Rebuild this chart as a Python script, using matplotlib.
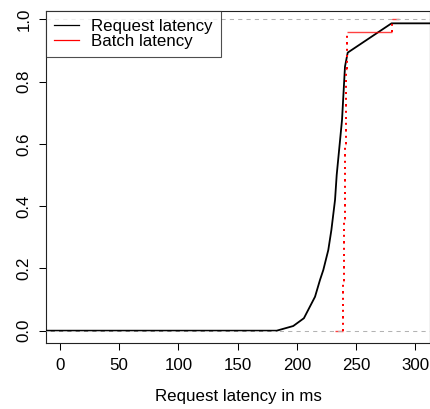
import numpy as np
import matplotlib
matplotlib.use("Agg")
import matplotlib.pyplot as plt
from matplotlib.lines import Line2D

# Request latency ECDF
req_x = [183, 197, 206, 215.4, 219.6, 222.4, 226.6, 229.2, 232.3, 233.7, 238.2, 240.7, 243.0, 280.0]
req_y = [0.0, 0.015, 0.04, 0.109, 0.163, 0.195, 0.259, 0.323, 0.42, 0.5, 0.677, 0.848, 0.893, 0.987]

# Batch latency knots (ECDF step function, 25 batches)
batch_knots = [239.0, 239.1, 239.3, 239.4, 239.5, 239.7, 239.8, 240.0, 240.1, 240.3,
               240.4, 240.6, 240.7, 240.9, 241.0, 241.2, 241.3, 241.5, 241.6, 241.8,
               241.9, 242.0, 242.2, 242.3, 280.0]

x_ticks = [0, 50, 100, 150, 200, 250, 300]
y_ticks = [0.0, 0.2, 0.4, 0.6, 0.8, 1.0]
x_label = "Request latency in ms"
legend_labels = ["Request latency", "Batch latency"]

plt.rcParams['font.family'] = ['Liberation Sans', 'DejaVu Sans']
FS = 12.2

fig = plt.figure(figsize=(4.31, 4.09), dpi=100)
ax = fig.add_axes([46/431, 1-343.3/409, 384/431, (343.3-10.7)/409])
xlim = (-11.8, 312.5)
ylim = (-0.0405, 1.0276)
ax.set_xlim(*xlim)
ax.set_ylim(*ylim)

# Request latency line (extended flat to plot edges)
rx = [xlim[0] - 5] + req_x + [xlim[1] + 5]
ry = [req_y[0]] + req_y + [req_y[-1]]
ax.plot(rx, ry, color='black', lw=1.3, zorder=3, solid_joinstyle='round')

# Batch latency ECDF
n = len(batch_knots)
yv = np.arange(1, n + 1) / n
kn = np.array(batch_knots)
ext = 0.16 * (kn[-1] - kn[0])
ybefore = np.concatenate([[0.0], yv[:-1]])
# vertical (dotted) parts
ax.vlines(kn, ybefore, yv, color='red', lw=1.44, linestyle=(0, (1, 2.1)), zorder=4)
# horizontal (solid) parts
hx0 = np.concatenate([[kn[0] - ext], kn])
hx1 = np.concatenate([kn, [kn[-1] + ext]])
hy = np.concatenate([[0.0], yv])
ax.hlines(hy, hx0, hx1, color='red', lw=1.0, alpha=0.75, zorder=4)

# reference dashed lines at 0 and 1
for h in (0.0, 1.0):
    ax.axhline(h, color='#b3b3b3', lw=0.75, linestyle=(0, (4, 4)), zorder=5)

ax.set_xticks(x_ticks)
ax.set_xticklabels([str(t) for t in x_ticks])
ax.set_yticks(y_ticks)
ax.set_yticklabels([f"{t:.1f}" for t in y_ticks], rotation=90, va='center')
ax.tick_params(axis='both', direction='out', length=5.3, width=0.75, labelsize=FS, colors='black')
ax.tick_params(axis='x', pad=5.5)
ax.tick_params(axis='y', pad=5)
for s in ax.spines.values():
    s.set_linewidth(0.8)
    s.set_color('#222222')
ax.set_xlabel(x_label, fontsize=FS, labelpad=11)

handles = [Line2D([], [], color='black', lw=0.9), Line2D([], [], color='red', lw=0.9)]
leg = ax.legend(handles, legend_labels, loc='upper left', bbox_to_anchor=(0, 1),
                borderaxespad=0, fontsize=FS, frameon=True, fancybox=False,
                handlelength=1.45, handletextpad=0.75, labelspacing=0.0,
                borderpad=0.47, edgecolor='#222222')
leg.get_frame().set_linewidth(0.8)
leg.set_zorder(10)

fig.savefig("out.png", dpi=100)
